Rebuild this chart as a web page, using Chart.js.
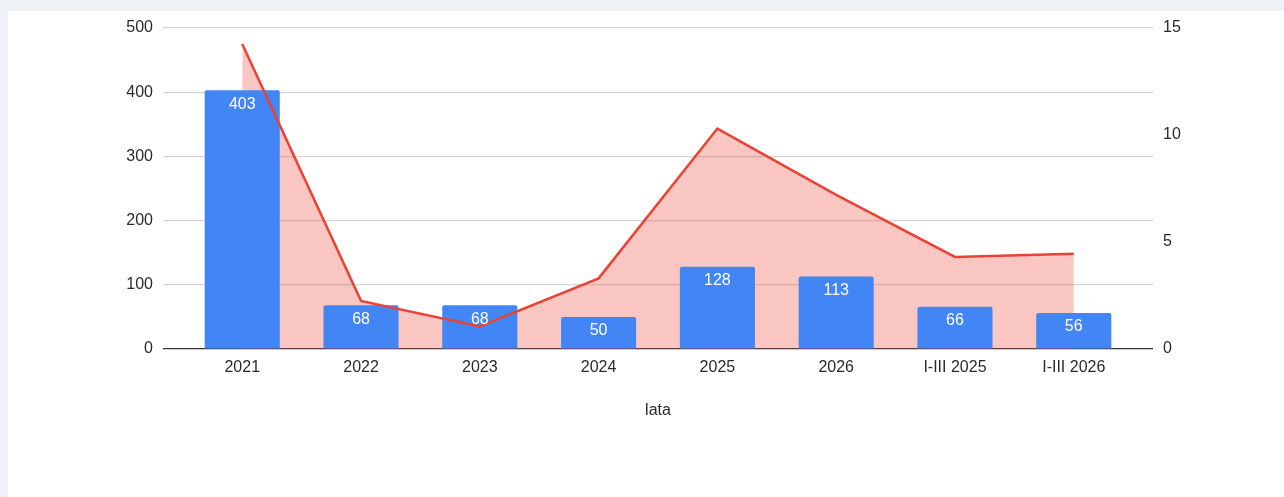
<!DOCTYPE html>
<html lang="pl">
<head>
    <meta charset="UTF-8">
    <title>lata</title>
    <script src="https://cdn.jsdelivr.net/npm/chart.js"></script>
    <style>
        body {
            margin: 0;
            background: #eef2f6;
            width: 1284px;
            height: 497px;
            overflow: hidden;
        }

        .panel {
            position: absolute;
            left: 8px;
            top: 11px;
            width: 1276px;
            height: 486px;
            background: #ffffff;
        }
    </style>
</head>
<body>
    <div class="panel">
        <canvas id="chart" width="1276" height="486"></canvas>
    </div>

    <script>
        // categories and series
        const labels = ['2021', '2022', '2023', '2024', '2025', '2026', 'I-III 2025', 'I-III 2026'];
        const barValues = [403, 68, 68, 50, 128, 113, 66, 56];
        const lineValues = [14.25, 2.25, 1.05, 3.3, 10.3, 7.2, 4.3, 4.45];

        const leftTicks = [0, 100, 200, 300, 400, 500];
        const rightTicks = [0, 5, 10, 15];

        const textColor = '#2a2a2a';
        const font = { family: "'Liberation Sans', Arial, sans-serif", size: 16 };

        // white value labels inside the top of each bar
        const barLabels = {
            id: 'barLabels',
            afterDatasetsDraw(chart) {
                const meta = chart.getDatasetMeta(0);
                const ctx = chart.ctx;
                ctx.save();
                ctx.fillStyle = '#ffffff';
                ctx.font = "16px 'Liberation Sans', Arial, sans-serif";
                ctx.textAlign = 'center';
                ctx.textBaseline = 'middle';
                meta.data.forEach((bar, i) => {
                    ctx.fillText(String(barValues[i]), bar.x, bar.y + 14);
                });
                ctx.restore();
            }
        };

        // fixed axis widths; top padding comes from the layout only
        function fixWidth(width) {
            return (scale) => {
                scale.width = width;
                scale.paddingTop = 0;
            };
        }

        const ctx = document.getElementById('chart').getContext('2d');
        new Chart(ctx, {
            type: 'bar',
            data: {
                datasets: [
                    {
                        type: 'bar',
                        data: barValues.map((v, i) => ({ x: i, y: v })),
                        backgroundColor: '#4285f4',
                        borderRadius: 2,
                        borderSkipped: 'bottom',
                        categoryPercentage: 1,
                        barPercentage: 0.632,
                        yAxisID: 'y',
                        order: 1
                    },
                    {
                        type: 'line',
                        data: lineValues.map((v, i) => ({ x: i, y: v })),
                        borderColor: '#ea4335',
                        borderWidth: 2.5,
                        backgroundColor: 'rgba(234, 67, 53, 0.3)',
                        fill: 'origin',
                        pointRadius: 0,
                        tension: 0,
                        yAxisID: 'y2',
                        order: 0
                    }
                ]
            },
            options: {
                responsive: false,
                animation: false,
                layout: {
                    padding: { top: 17, bottom: 77, left: 0, right: 0 }
                },
                plugins: {
                    legend: { display: false },
                    tooltip: { enabled: false },
                    filler: { drawTime: 'beforeDatasetsDraw' }
                },
                scales: {
                    x: {
                        type: 'linear',
                        offset: false,
                        min: -0.667,
                        max: 7.667,
                        grid: { display: false, drawTicks: false },
                        border: { display: false },
                        afterBuildTicks: (scale) => {
                            scale.ticks = labels.map((_, i) => ({ value: i }));
                        },
                        afterFit: (scale) => { scale.height = 71; },
                        ticks: {
                            autoSkip: false,
                            maxRotation: 0,
                            padding: 9,
                            color: textColor,
                            font: font,
                            callback: (value) => labels[value]
                        },
                        title: {
                            display: true,
                            text: 'lata',
                            color: textColor,
                            font: font,
                            padding: 0
                        }
                    },
                    y: {
                        position: 'left',
                        min: 0,
                        max: 500,
                        afterBuildTicks: (scale) => {
                            scale.ticks = leftTicks.map(v => ({ value: v }));
                        },
                        afterFit: fixWidth(155),
                        grid: {
                            drawTicks: false,
                            lineWidth: 1.2,
                            color: (c) => c.tick.value === 0 ? '#333333' : '#d6d6d6'
                        },
                        border: { display: false },
                        ticks: {
                            padding: 10,
                            color: textColor,
                            font: font
                        }
                    },
                    y2: {
                        position: 'right',
                        min: 0,
                        max: 15,
                        afterBuildTicks: (scale) => {
                            scale.ticks = rightTicks.map(v => ({ value: v }));
                        },
                        afterFit: fixWidth(131),
                        grid: { display: false, drawTicks: false },
                        border: { display: false },
                        ticks: {
                            padding: 10,
                            color: textColor,
                            font: font
                        }
                    }
                }
            },
            plugins: [barLabels]
        });
    </script>
</body>
</html>
